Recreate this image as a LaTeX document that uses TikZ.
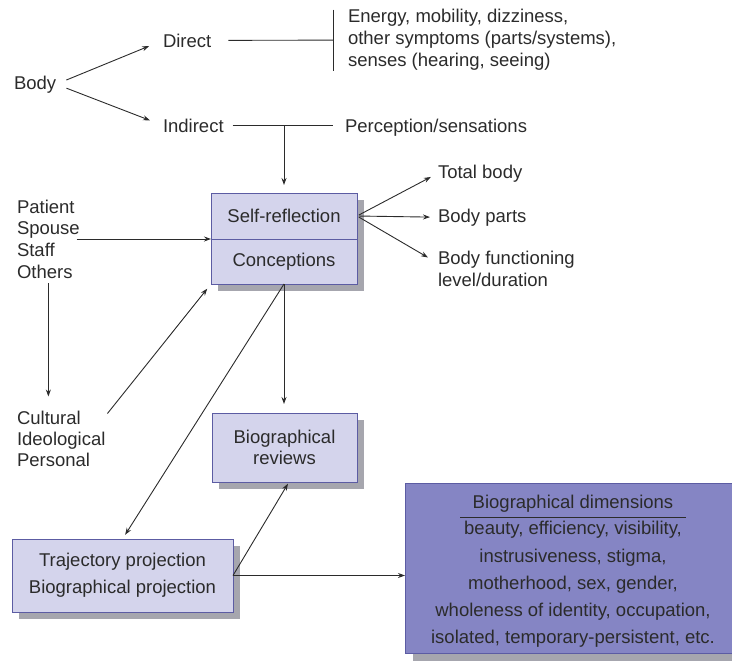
\documentclass[tikz,border=0pt]{standalone}
\usepackage{fontspec}
\setmainfont{Liberation Sans}
\usetikzlibrary{arrows.meta,shadows,calc}
\definecolor{ink}{HTML}{2B2B2B}
\definecolor{boxfill}{HTML}{D4D4EC}
\definecolor{boxline}{HTML}{5C5CA3}
\definecolor{shade}{HTML}{A6A6AE}
\definecolor{darkfill}{HTML}{8585C4}

\begin{document}
\begin{tikzpicture}[x=1pt,y=-1pt,
  every node/.style={inner sep=0pt, outer sep=0pt, text=ink,
    font=\fontsize{18.5}{22}\selectfont},
  lbl/.style={anchor=base west},
  blk/.style={anchor=north west, align=left},
  ln/.style={draw=ink, line width=0.9pt},
  arr/.style={ln, -{Stealth[length=7pt,width=5pt]}},
  box/.style={draw=boxline, line width=0.9pt, fill=boxfill, align=center,
    drop shadow={shadow xshift=#1, shadow yshift=-#1, fill=shade, opacity=1}},
  box/.default=7pt,
]
\useasboundingbox (0,0) rectangle (732,664);

% --- body and its two kinds of experience
\node[lbl] (body) at (14,89) {Body};
\node[lbl] (direct) at (163,47) {Direct};
\node[lbl] (indirect) at (163,132) {Indirect};
\node[blk] (energy) at (348,9.5) {Energy, mobility, dizziness,\\other symptoms (parts/systems),\\senses (hearing, seeing)};
\node[lbl] (percep) at (345,132) {Perception/sensations};

% --- central box
\node[box, minimum width=146pt, minimum height=46pt] (selfr) at (284,216) {Self-reflection};
\node[box, minimum width=146pt, minimum height=45pt] (concep) at (284,261.5) {Conceptions};

\node[lbl] (total) at (438,178) {Total body};
\node[lbl] (parts) at (438,222) {Body parts};
\node[blk] (func) at (438,251.5) {Body functioning\\level/duration};

% --- others and context
\node[blk, font=\fontsize{18.5}{21.7}\selectfont] (pat) at (17,199.7) {Patient\\Spouse\\Staff\\Others};
\node[blk, font=\fontsize{18.5}{21}\selectfont] (cult) at (17,411.5) {Cultural\\Ideological\\Personal};

% --- reviews and projections
\node[box, minimum width=145pt, minimum height=69pt, font=\fontsize{18.5}{21}\selectfont] (revs) at (284.5,447.5) {Biographical\\reviews};
\node[box, minimum width=221pt, minimum height=73pt, font=\fontsize{18.5}{27}\selectfont] (traj) at (122.5,575.5) {Trajectory projection\\Biographical projection};

\node[box=8pt, fill=darkfill, minimum width=336pt, minimum height=170pt] (dims) at (573,568) {};
\node[anchor=base, minimum width=226pt] (dimhead) at (573,508) {Biographical dimensions};
\draw[ln] ([yshift=-9pt]dimhead.base west) -- ([yshift=-9pt]dimhead.base east);
\node[align=center, font=\fontsize{18.5}{27.2}\selectfont] (dimlist) at (573,584.5)
  {beauty, efficiency, visibility,\\instrusiveness, stigma,\\motherhood, sex, gender,\\wholeness of identity, occupation,\\isolated, temporary-persistent, etc.};

% --- connectors
\draw[arr, shorten <=11pt, shorten >=15pt] (body.east) -- (direct.west);
\draw[arr, shorten <=11pt, shorten >=14pt] (body.east) -- (indirect.west);
\draw[ln, shorten <=17pt] (direct.east) -- ([xshift=-15pt]energy.west);
\draw[ln] ([xshift=-15pt]energy.north west) -- ([xshift=-15pt]energy.south west);
\draw[ln, shorten <=9pt, shorten >=12pt] (indirect.east) -- (indirect.east -| percep.west);
\draw[arr, shorten >=8pt] (selfr.north |- indirect.east) -- (selfr.north);

\draw[arr, shorten <=2pt, shorten >=8pt] (selfr.east) -- (total.west);
\draw[arr, shorten <=2pt, shorten >=8pt] (selfr.east) -- (parts.west);
\draw[arr, shorten <=2pt] (selfr.east) -- ([shift={(-10,6)}]func.north west);

\draw[arr] ([xshift=-3pt]pat.east |- selfr.south west) -- (selfr.south west);
\draw[arr, shorten <=5pt, shorten >=15pt] (pat.south) -- (pat.south |- cult.north);
\draw[arr, shorten >=6pt] ([shift={(2,2)}]cult.north east) -- (concep.south west);

\draw[arr, shorten >=9pt] (concep.south) -- (concep.south |- revs.north);
\draw[arr, shorten >=5pt] (concep.south) -- (traj.north);
\draw[arr, shorten >=2pt] (traj.east) -- ([xshift=4.5pt]revs.south);
\draw[arr] (traj.east) -- (traj.east -| dims.west);
\end{tikzpicture}
\end{document}
